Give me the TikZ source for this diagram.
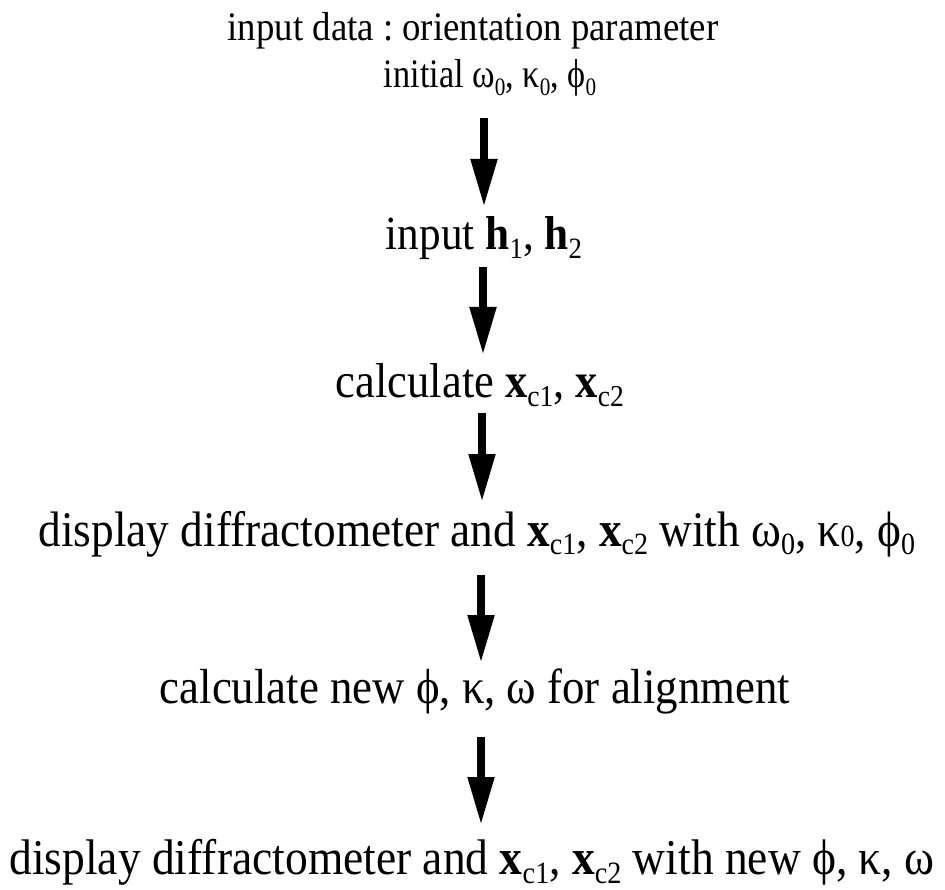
\documentclass[tikz,border=0pt]{standalone}
\usepackage{graphicx}
\usepackage{fontspec}
\setmainfont{Liberation Serif}
\usetikzlibrary{arrows.meta}
\newcommand{\lo}[1]{\raisebox{-0.18em}{\scalebox{0.62}{#1}}}
\newcommand{\sm}[1]{\scalebox{0.62}{#1}}
\newcommand{\vx}{\textbf{x}}
\newcommand{\vh}{\textbf{h}}
\newcommand{\tall}[2][1]{\scalebox{#1}[1.1]{#2}}
\tikzset{
  lbl/.style={inner sep=0pt, anchor=base, font=\fontsize{44.5}{48}\selectfont},
  arr/.style={line width=8pt, -{Triangle[width=25pt,length=48pt]}}
}
\begin{document}
\frenchspacing
\begin{tikzpicture}[x=1pt,y=-1pt]
\useasboundingbox (0,0) rectangle (945,890);
\node[lbl, font=\fontsize{36.8}{40}\selectfont] (l1) at (473,41) {\tall{input data : orientation parameter}};
\node[lbl, font=\fontsize{36.8}{40}\selectfont] (l2) at (490,88) {\tall[0.93]{initial ω\lo{0}, κ\lo{0}, ϕ\lo{0}}};
\node[lbl, font=\fontsize{43.2}{46}\selectfont] (l3) at (484,250) {\tall{input \vh\lo{1}, \vh\lo{2}}};
\node[lbl] (l4) at (480,398) {\tall{calculate \vx\lo{c1}, \vx\lo{c2}}};
\node[lbl, font=\fontsize{45.3}{48}\selectfont] (l5) at (477,546) {\tall{display diffractometer and \vx\lo{c1}, \vx\lo{c2} with ω\lo{0}, κ\sm{0}, ϕ\lo{0}}};
\node[lbl, font=\fontsize{44.8}{48}\selectfont] (l6) at (475,703) {\tall{calculate new ϕ, κ, ω for alignment}};
\node[lbl, font=\fontsize{45.5}{48}\selectfont] (l7) at (472,874) {\tall{display diffractometer and \vx\lo{c1}, \vx\lo{c2} with new ϕ, κ, ω}};
\draw[arr, shorten <=30pt, shorten >=43pt] (l2.base -| 484,0) -- (l3.base -| 484,0);
\draw[arr, shorten <=17pt, shorten >=43pt] (l3.base -| 483,0) -- (l4.base -| 483,0);
\draw[arr, shorten <=15pt, shorten >=44pt] (l4.base -| 482,0) -- (l5.base -| 482,0);
\draw[arr, shorten <=29pt, shorten >=40pt] (l5.base -| 481,0) -- (l6.base -| 481,0);
\draw[arr, shorten <=34pt, shorten >=49pt] (l6.base -| 481,0) -- (l7.base -| 481,0);
\end{tikzpicture}
\end{document}
